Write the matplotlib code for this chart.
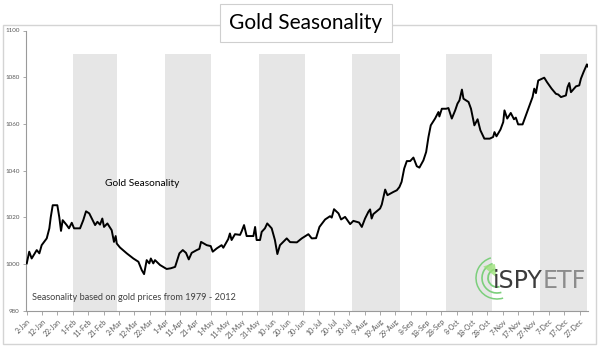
import matplotlib.pyplot as plt
from matplotlib.patches import Rectangle, Arc, Wedge

plt.rcParams['font.family'] = ['Lato', 'DejaVu Sans']

# day index counted from 2-Jan (leap year), seasonal gold price index
days = [0, 1.6, 3.2, 6.5, 8.2, 9.7, 13, 14.7, 15.6, 16.9, 19.9, 21.2, 22.3, 23.4, 26, 27.5,
        29.3, 30.8, 34.7, 36.8, 38.6, 40.7, 44.5, 46, 47.7, 49.2, 50.3, 52.5, 55.3, 56.8, 57.9,
        58.6, 60.7, 65.1, 69.4, 72.7, 74.9, 76.4, 78.1, 79.8, 80.8, 82.4, 83.5, 86.8, 91.1,
        93.8, 96.6, 99.4, 101.6, 103.7, 105.5, 107.4, 110.7, 112.4, 113.5, 117.2, 119.8,
        121.1, 123.7, 126.9, 128, 131.2, 132.3, 133.4, 135.6, 138.9, 140, 141.5, 143.2,
        147.6, 148.7, 149.7, 151.9, 153, 155.1, 156.6, 159.5, 161.6, 163.2, 164.9, 169.3,
        171.5, 175.9, 179.1, 183.4, 185.6, 188.4, 190.6, 194.3, 197.5, 198.6, 200.1, 203,
        204.7, 207.3, 210.6, 212.7, 216.4, 218.2, 220.3, 222.5, 223.6, 224.6, 225.7, 230.1,
        231.2, 233.4, 234.9, 238.8, 241, 242.7, 244.1, 245.8, 247.5, 249.7, 251.8, 254,
        255.7, 258.3, 260.1, 261.6, 263.1, 265.9, 268.1, 268.7, 270.3, 273.1, 274.6, 276.8,
        279, 280.5, 281.8, 283.4, 284.4, 287.7, 289.3, 291.5, 293.6, 295.4, 298, 301.5,
        303.7, 304.6, 305.9, 308.5, 310.3, 311.1, 312.9, 315.2, 317.3, 318.5, 320, 322.9,
        326.2, 329.4, 330.5, 331.6, 333.1, 337, 338.8, 341.8, 344.6, 346.1, 347.9, 351.1,
        352.2, 353.3, 354.4, 357.7, 359.8, 360.9, 362.6, 364.8, 365.3]
prices = [1000.3, 1005.3, 1002.4, 1006, 1004.6, 1008.1, 1011, 1015.3, 1020, 1025.2, 1025.2,
          1020, 1014.2, 1018.8, 1016.7, 1015.3, 1017.7, 1015.3, 1015.3, 1018.8, 1022.6,
          1021.7, 1016.7, 1018.1, 1016.9, 1019.5, 1015.9, 1017.4, 1014.5, 1009.5, 1012,
          1008.8, 1007.1, 1004.6, 1002.4, 1001, 997.4, 995.7, 1001.7, 1000.3, 1002.4, 1000.3,
          1001.7, 999.6, 997.9, 998.2, 998.8, 1004.6, 1006, 1004.8, 1002, 1004.8, 1006,
          1006.5, 1009.5, 1008.1, 1007.7, 1005.3, 1006.7, 1008.1, 1007, 1010.7, 1013.1,
          1010.3, 1012.8, 1012.5, 1014.1, 1016.7, 1012, 1012, 1015.9, 1010.3, 1010.3, 1013.8,
          1015.3, 1017.4, 1015.3, 1010.3, 1004.3, 1008.1, 1011, 1009.4, 1009.3, 1011, 1012.8,
          1011, 1011.1, 1015.9, 1019.1, 1020.5, 1019.9, 1023.5, 1021.7, 1019.1, 1020.2,
          1017.1, 1018.5, 1017.8, 1015.9, 1019.5, 1022.4, 1023.4, 1019.5, 1021.4, 1023.8,
          1025.5, 1031.9, 1029.5, 1030.9, 1031.6, 1033, 1035.2, 1040.9, 1044.1, 1044.1,
          1045.6, 1041.9, 1041.3, 1044.4, 1048, 1054.4, 1059.4, 1062.3, 1065.1, 1063.2,
          1066.5, 1066.5, 1066.8, 1062.3, 1065.8, 1068.7, 1070.1, 1074.7, 1070.8, 1069.4,
          1066.5, 1059.4, 1062, 1057.3, 1053.7, 1053.7, 1054.4, 1056.5, 1054.7, 1057.6,
          1060.8, 1065.8, 1062.3, 1064.7, 1062, 1062.7, 1059.8, 1059.8, 1065.8, 1071.5,
          1075.1, 1073.2, 1078.6, 1079.8, 1077.9, 1075.1, 1072.9, 1072.6, 1071.5, 1072.2,
          1075.8, 1077.5, 1073.6, 1076.1, 1076.5, 1079.4, 1082.2, 1085.5, 1084.6]

# shaded months (Feb, Apr, Jun, Aug, Oct, Dec): first day index and length
band_start = [30, 90, 151, 212, 273, 334]
band_len = [29, 30, 30, 31, 30, 31]
band_top = 1090

tick_labels = ['2-Jan', '12-Jan', '22-Jan', '1-Feb', '11-Feb', '21-Feb', '2-Mar', '12-Mar',
               '22-Mar', '1-Apr', '11-Apr', '21-Apr', '1-May', '11-May', '21-May', '31-May',
               '10-Jun', '20-Jun', '30-Jun', '10-Jul', '20-Jul', '30-Jul', '9-Aug', '19-Aug',
               '29-Aug', '8-Sep', '18-Sep', '28-Sep', '8-Oct', '18-Oct', '28-Oct', '7-Nov',
               '17-Nov', '27-Nov', '7-Dec', '17-Dec', '27-Dec']
yticks = [980, 1000, 1020, 1040, 1060, 1080, 1100]

W, H = 600, 348
fig = plt.figure(figsize=(6, 3.48), dpi=100)
fig.patch.set_facecolor('white')

def px(x, y):
    return x / W, 1 - y / H

# outer chart frame
fig.patches.append(Rectangle(px(3, 344), 593 / W, 319 / H, transform=fig.transFigure,
                             fill=False, edgecolor='#d4d4d4', linewidth=1, zorder=0))

ax = fig.add_axes([26 / W, 1 - 310.8 / H, 562 / W, 280.3 / H])
ax.set_facecolor('none')

ax.bar(band_start, [band_top - 980] * len(band_start), width=band_len, bottom=980,
       align='edge', color='#e6e6e6', linewidth=0, zorder=1)
ax.plot(days, prices, color='black', linewidth=1.4, zorder=3)

ax.set_xlim(-0.5, 365.5)
ax.set_ylim(980, 1100)
ax.set_yticks(yticks)
ax.set_yticklabels([str(v) for v in yticks], fontsize=4.5, color='#595959')
ax.set_xticks(range(0, 10 * len(tick_labels), 10))
ax.set_xticklabels(tick_labels, rotation=45, ha='right', rotation_mode='anchor',
                   fontsize=5, color='#595959')
ax.tick_params(axis='x', length=3, width=0.6, color='#9a9a9a', pad=2)
ax.tick_params(axis='y', length=2.5, width=0.6, color='#9a9a9a', pad=2)
for s in ['top', 'right']:
    ax.spines[s].set_visible(False)
for s in ['left', 'bottom']:
    ax.spines[s].set_color('#9a9a9a')
    ax.spines[s].set_linewidth(0.8)

ax.text(142.5 / W, 1 - 184 / H, 'Gold Seasonality', transform=fig.transFigure,
        ha='center', va='center', fontsize=7.3, color='black')
fig.text(31.5 / W, 1 - 297 / H, 'Seasonality based on gold prices from 1979 - 2012',
         ha='left', va='center', fontsize=6.6, color='#404040')

# title box
fig.text(306 / W, 1 - 23 / H, 'Gold Seasonality', ha='center', va='center', fontsize=15,
         color='black', zorder=5,
         bbox=dict(boxstyle='square,pad=0.45', facecolor='white', edgecolor='#cfcfcf',
                   linewidth=0.8))

# iSPYETF logo
cx, cy = px(497, 278)
for r, lw in [(9, 1.3), (15, 1.2), (21, 1.1)]:
    fig.patches.append(Arc((cx, cy), 2 * r / W, 2 * r / H, theta1=100, theta2=280,
                           transform=fig.transFigure, color='#7ccf7c', linewidth=lw,
                           zorder=4))
fig.patches.append(Wedge((cx, cy), 0.04, 95, 125, transform=fig.transFigure,
                         color='#9be07a', alpha=0.8, linewidth=0, zorder=4))
t1 = fig.text(493 / W, 1 - 281 / H, 'iSPY', ha='left', va='center', fontsize=17,
              color='#3c3c3c', family=['DejaVu Sans'], zorder=6)
fig.canvas.draw()
bb = t1.get_window_extent()
fig.text(bb.x1 / W, 1 - 281 / H, 'ETF', ha='left', va='center', fontsize=17,
         color='#8c8c8c', family=['DejaVu Sans'], zorder=6)

fig.savefig('out.png', dpi=100, facecolor='white')
